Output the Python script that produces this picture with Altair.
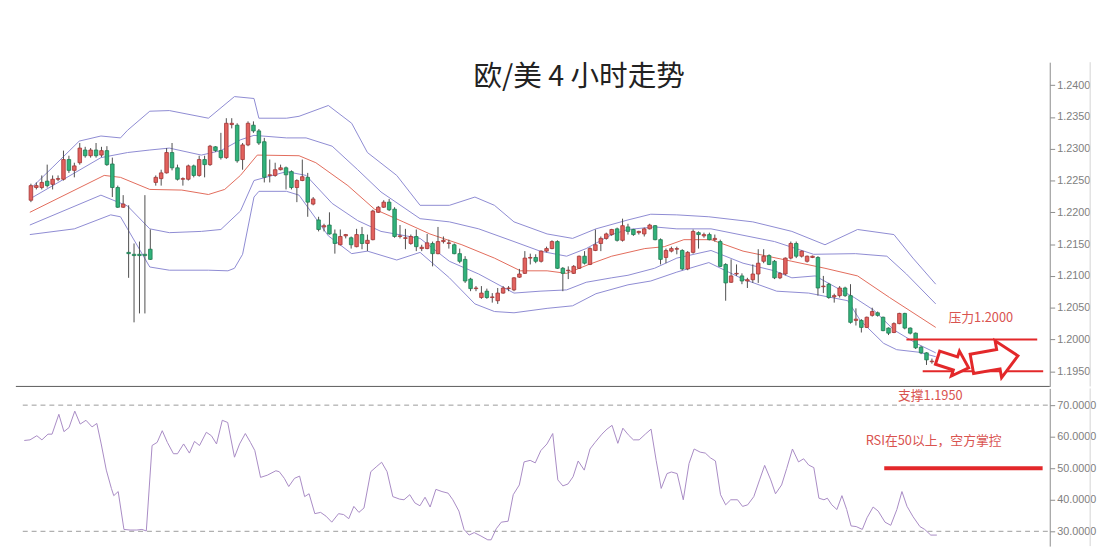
import altair as alt
import pandas as pd

# ---------------- candle data (EUR/USD, 4h) ----------------
opens = [1.2219, 1.2239, 1.2239, 1.2249, 1.2244, 1.2252, 1.2252, 1.2283, 1.2266, 1.2278,
         1.2298, 1.2289, 1.2298, 1.2290, 1.2297, 1.2276, 1.2239, 1.2208, 1.2137, 1.2134,
         1.2134, 1.2134, 1.2142, 1.2247, 1.2253, 1.2262, 1.2294, 1.2270, 1.2252, 1.2252,
         1.2273, 1.2258, 1.2283, 1.2275, 1.2303, 1.2297, 1.2286, 1.2338, 1.2337, 1.2283,
         1.2306, 1.2337, 1.2328, 1.2311, 1.2258, 1.2258, 1.2267, 1.2270, 1.2264, 1.2239,
         1.2250, 1.2255, 1.2213, 1.2188, 1.2177, 1.2180, 1.2166, 1.2149, 1.2163, 1.2160,
         1.2146, 1.2165, 1.2151, 1.2157, 1.2200, 1.2208, 1.2216, 1.2205, 1.2162, 1.2159,
         1.2151, 1.2162, 1.2143, 1.2143, 1.2151, 1.2135, 1.2154, 1.2151, 1.2149, 1.2135,
         1.2126, 1.2095, 1.2080, 1.2066, 1.2076, 1.2066, 1.2061, 1.2073, 1.2080, 1.2078,
         1.2098, 1.2104, 1.2128, 1.2129, 1.2123, 1.2139, 1.2143, 1.2154, 1.2112, 1.2108,
         1.2104, 1.2112, 1.2131, 1.2118, 1.2140, 1.2151, 1.2159, 1.2165, 1.2174, 1.2156,
         1.2177, 1.2173, 1.2168, 1.2166, 1.2174, 1.2179, 1.2157, 1.2129, 1.2139, 1.2142,
         1.2140, 1.2111, 1.2137, 1.2168, 1.2163, 1.2165, 1.2157, 1.2154, 1.2118, 1.2090,
         1.2103, 1.2100, 1.2092, 1.2094, 1.2103, 1.2123, 1.2132, 1.2123, 1.2097, 1.2103,
         1.2128, 1.2151, 1.2131, 1.2123, 1.2129, 1.2129, 1.2083, 1.2087, 1.2067, 1.2069,
         1.2081, 1.2069, 1.2030, 1.2030, 1.2019, 1.2038, 1.2042, 1.2035, 1.2018, 1.2011,
         1.2025, 1.2041, 1.2018, 1.2010, 1.1988, 1.1979, 1.1965]
closes = [1.2242, 1.2242, 1.2247, 1.2242, 1.2252, 1.2253, 1.2283, 1.2266, 1.2273, 1.2301,
          1.2289, 1.2298, 1.2289, 1.2297, 1.2275, 1.2239, 1.2208, 1.2213, 1.2135, 1.2132,
          1.2132, 1.2132, 1.2126, 1.2255, 1.2262, 1.2294, 1.2270, 1.2252, 1.2253, 1.2273,
          1.2258, 1.2283, 1.2275, 1.2304, 1.2297, 1.2286, 1.2340, 1.2340, 1.2281, 1.2306,
          1.2340, 1.2328, 1.2309, 1.2255, 1.2259, 1.2267, 1.2270, 1.2259, 1.2239, 1.2250,
          1.2256, 1.2216, 1.2221, 1.2173, 1.2179, 1.2166, 1.2151, 1.2162, 1.2165, 1.2149,
          1.2165, 1.2151, 1.2156, 1.2202, 1.2208, 1.2216, 1.2204, 1.2162, 1.2163, 1.2160,
          1.2162, 1.2146, 1.2145, 1.2152, 1.2135, 1.2154, 1.2156, 1.2152, 1.2135, 1.2123,
          1.2092, 1.2080, 1.2081, 1.2073, 1.2066, 1.2067, 1.2073, 1.2081, 1.2081, 1.2097,
          1.2103, 1.2128, 1.2129, 1.2123, 1.2139, 1.2143, 1.2154, 1.2112, 1.2104, 1.2109,
          1.2115, 1.2131, 1.2120, 1.2143, 1.2149, 1.2159, 1.2166, 1.2173, 1.2156, 1.2179,
          1.2170, 1.2165, 1.2170, 1.2174, 1.2180, 1.2157, 1.2126, 1.2140, 1.2143, 1.2143,
          1.2111, 1.2137, 1.2170, 1.2165, 1.2165, 1.2157, 1.2159, 1.2115, 1.2089, 1.2100,
          1.2104, 1.2092, 1.2094, 1.2103, 1.2120, 1.2131, 1.2118, 1.2097, 1.2104, 1.2128,
          1.2151, 1.2131, 1.2139, 1.2131, 1.2131, 1.2081, 1.2084, 1.2066, 1.2069, 1.2081,
          1.2069, 1.2027, 1.2032, 1.2019, 1.2035, 1.2044, 1.2038, 1.2014, 1.2010, 1.2025,
          1.2041, 1.2018, 1.2010, 1.1987, 1.1979, 1.1968, 1.1966]
highs = [1.2245, 1.2247, 1.2258, 1.2275, 1.2258, 1.2258, 1.2297, 1.2289, 1.2278, 1.2309,
         1.2303, 1.2301, 1.2309, 1.2303, 1.2304, 1.2286, 1.2242, 1.2227, 1.2211, 1.2151,
         1.2154, 1.2227, 1.2173, 1.2258, 1.2267, 1.2301, 1.2309, 1.2275, 1.2255, 1.2275,
         1.2275, 1.2289, 1.2289, 1.2306, 1.2304, 1.2325, 1.2348, 1.2348, 1.2340, 1.2309,
         1.2343, 1.2343, 1.2331, 1.2317, 1.2283, 1.2278, 1.2275, 1.2272, 1.2266, 1.2252,
         1.2283, 1.2262, 1.2224, 1.2193, 1.2182, 1.2200, 1.2173, 1.2173, 1.2166, 1.2162,
         1.2174, 1.2177, 1.2165, 1.2204, 1.2210, 1.2219, 1.2221, 1.2208, 1.2180, 1.2174,
         1.2165, 1.2173, 1.2149, 1.2166, 1.2154, 1.2177, 1.2162, 1.2157, 1.2151, 1.2143,
         1.2131, 1.2097, 1.2084, 1.2084, 1.2080, 1.2073, 1.2081, 1.2084, 1.2084, 1.2098,
         1.2111, 1.2139, 1.2135, 1.2134, 1.2140, 1.2146, 1.2156, 1.2156, 1.2114, 1.2115,
         1.2117, 1.2132, 1.2139, 1.2145, 1.2173, 1.2162, 1.2168, 1.2174, 1.2176, 1.2190,
         1.2182, 1.2174, 1.2171, 1.2176, 1.2182, 1.2180, 1.2159, 1.2143, 1.2146, 1.2146,
         1.2142, 1.2139, 1.2173, 1.2170, 1.2168, 1.2168, 1.2165, 1.2157, 1.2120, 1.2126,
         1.2118, 1.2104, 1.2097, 1.2118, 1.2142, 1.2142, 1.2134, 1.2125, 1.2106, 1.2129,
         1.2154, 1.2154, 1.2140, 1.2132, 1.2132, 1.2131, 1.2100, 1.2089, 1.2072, 1.2084,
         1.2083, 1.2087, 1.2049, 1.2032, 1.2036, 1.2050, 1.2044, 1.2036, 1.2019, 1.2027,
         1.2042, 1.2042, 1.2019, 1.2011, 1.1990, 1.1980, 1.1970]
lows = [1.2216, 1.2236, 1.2236, 1.2239, 1.2236, 1.2249, 1.2250, 1.2262, 1.2255, 1.2275,
        1.2286, 1.2286, 1.2286, 1.2287, 1.2273, 1.2224, 1.2207, 1.2207, 1.2097, 1.2027,
        1.2041, 1.2041, 1.2125, 1.2242, 1.2242, 1.2261, 1.2266, 1.2250, 1.2242, 1.2250,
        1.2255, 1.2256, 1.2255, 1.2273, 1.2295, 1.2283, 1.2284, 1.2332, 1.2278, 1.2267,
        1.2304, 1.2325, 1.2306, 1.2247, 1.2247, 1.2256, 1.2266, 1.2236, 1.2236, 1.2216,
        1.2249, 1.2193, 1.2211, 1.2170, 1.2170, 1.2165, 1.2135, 1.2148, 1.2159, 1.2143,
        1.2145, 1.2142, 1.2139, 1.2156, 1.2199, 1.2207, 1.2202, 1.2160, 1.2159, 1.2142,
        1.2149, 1.2139, 1.2139, 1.2142, 1.2115, 1.2134, 1.2151, 1.2143, 1.2134, 1.2120,
        1.2089, 1.2076, 1.2076, 1.2064, 1.2064, 1.2058, 1.2056, 1.2072, 1.2076, 1.2076,
        1.2097, 1.2103, 1.2118, 1.2120, 1.2121, 1.2137, 1.2142, 1.2111, 1.2076, 1.2095,
        1.2103, 1.2111, 1.2118, 1.2117, 1.2139, 1.2139, 1.2157, 1.2163, 1.2154, 1.2154,
        1.2165, 1.2163, 1.2165, 1.2162, 1.2173, 1.2156, 1.2118, 1.2120, 1.2137, 1.2134,
        1.2109, 1.2109, 1.2135, 1.2143, 1.2160, 1.2156, 1.2154, 1.2114, 1.2061, 1.2089,
        1.2100, 1.2087, 1.2081, 1.2089, 1.2089, 1.2120, 1.2117, 1.2095, 1.2095, 1.2101,
        1.2126, 1.2128, 1.2129, 1.2121, 1.2128, 1.2069, 1.2073, 1.2064, 1.2058, 1.2066,
        1.2067, 1.2025, 1.2022, 1.2011, 1.2018, 1.2036, 1.2036, 1.2013, 1.2007, 1.2010,
        1.2024, 1.2016, 1.2008, 1.1985, 1.1977, 1.1960, 1.1962]

# ---------------- Bollinger bands (bar index -> price) ----------------
uo_k = [-0.2, 3.9, 8.9, 12.9, 16.5, 17.8, 21.9, 25.5, 32.7, 37.5, 41.1, 42.0, 47.1, 49.4, 54.8,
        59.1, 62.0, 67.4, 71.7, 77.1, 81.8, 85.4, 89.0, 95.1, 99.8, 104.1, 110.0, 114.2, 119.0,
        124.9, 133.0, 140.2, 146.3, 152.3, 159.0, 162.5, 166.7]
uo_p = [1.2236, 1.2270, 1.2312, 1.2320, 1.2317, 1.2329, 1.2359, 1.2360, 1.2348, 1.2382, 1.2379,
        1.2348, 1.2348, 1.2351, 1.2368, 1.2340, 1.2294, 1.2258, 1.2211, 1.2211, 1.2224, 1.2211,
        1.2185, 1.2166, 1.2159, 1.2174, 1.2188, 1.2197, 1.2196, 1.2193, 1.2185, 1.2170, 1.2149,
        1.2173, 1.2165, 1.2128, 1.2087]
ui_k = [-0.2, 12.9, 17.8, 21.9, 25.5, 31.4, 35.0, 38.6, 41.1, 47.1, 50.7, 55.5, 60.2, 64.5, 71.7,
        77.1, 82.5, 89.0, 93.8, 98.7, 102.3, 107.0, 110.0, 114.9, 119.0, 125.3, 137.0, 144.2,
        151.9, 157.7, 161.3, 166.7]
ui_p = [1.2221, 1.2286, 1.2294, 1.2298, 1.2301, 1.2290, 1.2297, 1.2314, 1.2321, 1.2317, 1.2317,
        1.2304, 1.2267, 1.2232, 1.2190, 1.2185, 1.2174, 1.2154, 1.2139, 1.2131, 1.2143, 1.2165,
        1.2173, 1.2177, 1.2174, 1.2174, 1.2154, 1.2134, 1.2135, 1.2131, 1.2103, 1.2056]
mid_k = [-0.2, 13.5, 16.5, 21.9, 27.8, 32.7, 35.7, 38.6, 41.7, 49.4, 52.5, 58.4, 63.3, 68.6, 73.5,
         79.4, 85.4, 90.2, 95.1, 98.7, 102.8, 107.0, 113.1, 116.7, 120.3, 125.3, 131.2, 140.2,
         146.3, 152.3, 158.2, 166.7]
mid_p = [1.2200, 1.2258, 1.2255, 1.2236, 1.2235, 1.2228, 1.2236, 1.2258, 1.2290, 1.2289, 1.2278,
         1.2242, 1.2205, 1.2185, 1.2166, 1.2149, 1.2128, 1.2108, 1.2108, 1.2104, 1.2118, 1.2131,
         1.2143, 1.2146, 1.2157, 1.2157, 1.2139, 1.2123, 1.2112, 1.2100, 1.2066, 1.2019]
li_k = [-0.2, 12.9, 17.8, 21.9, 25.5, 31.4, 35.0, 38.6, 41.1, 47.1, 50.7, 55.5, 60.2, 64.5, 71.7,
        77.1, 82.5, 89.0, 93.8, 98.7, 102.3, 107.0, 110.0, 114.9, 119.0, 125.3, 131.2, 137.0,
        140.2, 144.5, 151.7, 155.3, 159.0, 163.1, 166.7]
li_p = [1.2180, 1.2227, 1.2210, 1.2174, 1.2168, 1.2170, 1.2173, 1.2202, 1.2250, 1.2264, 1.2258,
        1.2214, 1.2187, 1.2170, 1.2159, 1.2123, 1.2103, 1.2073, 1.2076, 1.2078, 1.2090, 1.2097,
        1.2101, 1.2112, 1.2128, 1.2140, 1.2120, 1.2108, 1.2097, 1.2100, 1.2066, 1.2046, 1.2015,
        1.1994, 1.1979]
lo_k = [-0.2, 8.0, 14.7, 16.5, 17.8, 21.9, 25.5, 32.7, 36.3, 37.5, 39.0, 41.1, 42.0, 47.1, 49.4,
        54.8, 59.1, 62.0, 67.4, 71.7, 77.1, 81.8, 85.4, 89.0, 95.1, 99.8, 104.1, 110.0, 114.2,
        119.0, 124.9, 131.2, 137.4, 143.3, 150.5, 152.8, 157.1, 159.5, 163.6, 166.7]
lo_p = [1.2165, 1.2174, 1.2196, 1.2193, 1.2174, 1.2114, 1.2109, 1.2109, 1.2108, 1.2112, 1.2134,
        1.2224, 1.2233, 1.2233, 1.2227, 1.2163, 1.2135, 1.2139, 1.2125, 1.2137, 1.2097, 1.2056,
        1.2044, 1.2042, 1.2049, 1.2053, 1.2072, 1.2086, 1.2092, 1.2106, 1.2121, 1.2095, 1.2076,
        1.2073, 1.2061, 1.2030, 1.1994, 1.1984, 1.1980, 1.1973]

# ---------------- RSI ----------------
rsi_k = [-0.32, 0.73, 1.97, 2.90, 4.01, 4.75, 5.99, 6.92, 7.85, 8.90, 9.89, 10.94, 12.05, 12.92,
         13.72, 14.65, 15.58, 16.01, 16.82, 17.87, 18.98, 20.22, 21.15, 21.95, 23.0, 23.93, 24.86,
         25.79, 26.90, 27.64, 28.76, 29.81, 30.74, 31.66, 32.90, 33.83, 34.76, 35.81, 36.80, 38.04,
         38.97, 40.02, 40.95, 41.75, 42.80, 44.04, 45.59, 46.21, 47.13, 47.94, 48.99, 49.92, 50.84,
         51.65, 52.70, 53.75, 54.74, 55.79, 57.03, 57.96, 58.89, 59.82, 60.74, 61.67, 62.91, 64.02,
         64.89, 65.88, 66.93, 68.17, 68.97, 70.02, 70.95, 71.88, 72.81, 73.74, 74.79, 75.90, 77.02,
         77.88, 78.99, 79.92, 80.85, 81.78, 83.02, 84.26, 84.87, 85.80, 86.73, 87.97, 88.90, 90.01,
         90.88, 91.99, 92.92, 93.94, 95.06, 96.11, 97.04, 97.96, 98.89, 99.82, 100.75, 101.86,
         102.91, 103.84, 105.08, 106.01, 106.93, 107.99, 108.91, 109.9, 110.83, 111.88, 113.0,
         114.05, 114.98, 115.9, 116.96, 117.76, 118.81, 119.93, 120.98, 121.91, 123.02, 123.95,
         124.88, 125.8, 126.73, 127.66, 128.59, 129.83, 130.75, 131.68, 132.8, 133.85, 134.78,
         135.89, 136.76, 137.87, 138.8, 139.85, 140.96, 141.89, 142.82, 143.75, 144.68, 145.6,
         146.22, 147.03, 147.96, 148.88, 149.75, 150.55, 151.48, 152.6, 153.46, 154.57, 155.5,
         156.74, 157.79, 158.9, 159.83, 160.76, 161.87, 163.11, 163.98, 165.09, 166.2]
rsi_v = [58.8, 59.0, 60.3, 59.0, 60.8, 60.8, 67.1, 61.6, 62.9, 68.1, 64.0, 65.2, 63.1, 64.2,
         57.7, 49.4, 43.6, 41.3, 42.6, 30.6, 30.4, 30.4, 30.6, 30.1, 57.2, 58.2, 61.9,
         58.2, 54.6, 54.6, 57.7, 54.8, 58.5, 57.2, 61.4, 60.3, 57.7, 65.2, 64.5, 53.5,
         57.7, 61.0, 58.2, 55.6, 47.1, 47.8, 49.2, 48.9, 46.8, 44.2, 46.8, 47.5, 41.0,
         41.9, 35.6, 36.0, 34.8, 32.9, 35.6, 35.3, 34.0, 37.9, 36.0, 37.4, 48.9, 50.6,
         51.9, 48.9, 41.0, 40.2, 40.0, 41.6, 39.0, 38.1, 40.8, 37.7, 43.3, 42.6, 42.1,
         40.0, 36.4, 30.6, 28.8, 29.6, 28.5, 27.3, 27.3, 30.8, 32.9, 33.2, 41.6, 44.7,
         52.0, 52.5, 51.7, 55.6, 57.7, 61.0, 46.3, 44.4, 45.0, 47.3, 52.3, 49.4,
         56.1, 58.2, 60.8, 62.4, 63.6, 57.9, 62.7, 60.6, 59.0, 59.0, 60.8,
         62.4, 52.5, 43.6, 48.3, 48.8, 48.3, 40.0, 51.5, 56.1, 55.1, 54.8,
         53.3, 52.3, 41.6, 38.4, 40.0, 40.0, 37.9, 38.4, 41.0, 46.3, 50.9,
         46.3, 41.9, 44.7, 49.9, 56.1, 52.0, 53.0, 51.0, 50.2, 40.5, 40.0,
         40.5, 38.4, 36.9, 41.3, 36.9, 31.7, 31.5, 30.6, 34.3, 37.7, 36.4,
         32.9, 31.9, 36.9, 42.6, 37.9, 34.6, 31.5, 30.6, 28.8, 28.8]

price_ticks = [1.1950, 1.2000, 1.2050, 1.2100, 1.2150, 1.2200, 1.2250, 1.2300, 1.2350, 1.2400]
rsi_ticks = [30, 40, 50, 60, 70]
rsi_levels = [70, 30]
resistance = 1.2000
support = 1.1950
rsi_mid = 50
title_text = "欧/美 4 小时走势"

# ---------------- frames ----------------
n = len(opens)
cdf = pd.DataFrame({"k": list(range(n)), "open": opens, "high": highs, "low": lows, "close": closes})
cdf["dir"] = ["up" if c >= o else "down" for o, c in zip(opens, closes)]

band_rows = []
for name, ks, ps in [("uo", uo_k, uo_p), ("ui", ui_k, ui_p), ("mid", mid_k, mid_p),
                     ("li", li_k, li_p), ("lo", lo_k, lo_p)]:
    for kk, pp in zip(ks, ps):
        band_rows.append({"band": name, "k": kk, "p": pp})
bdf = pd.DataFrame(band_rows)
rdf = pd.DataFrame({"k": rsi_k, "v": rsi_v})

W = 1042
H1 = 329
H2 = 160
xs = alt.Scale(domain=[-0.59, 186.8], nice=False, zero=False)
ys = alt.Scale(domain=[1.19262, 1.24361], nice=False, zero=False)
yr = alt.Scale(domain=[25.31, 75.31], nice=False, zero=False)

AX = dict(orient="right", grid=False, domainColor="#8c8c8c", tickColor="#8c8c8c", tickSize=5,
          labelColor="#808080", labelFont="Liberation Sans", labelFontSize=11, labelPadding=2,
          title=None)
ax_price = alt.Axis(values=price_ticks, format=".4f", **AX)
ax_rsi = alt.Axis(values=rsi_ticks, format=".4f", **AX)


def X(f="k"):
    return alt.X(f, type="quantitative", scale=xs, axis=None, title=None)


def YP(f):
    return alt.Y(f, type="quantitative", scale=ys, axis=ax_price, title=None)


def YR(f):
    return alt.Y(f, type="quantitative", scale=yr, axis=ax_rsi, title=None)


one = pd.DataFrame({"a": [0]})
RED = "#e3282a"
TXT = "#d9534f"
BAND = "#8d8ad2"
MIDC = "#e26b5a"

bands = alt.Chart(bdf).mark_line(strokeWidth=1).encode(
    x=X(), y=YP("p"),
    color=alt.Color("band:N", scale=alt.Scale(domain=["uo", "ui", "mid", "li", "lo"],
                                              range=[BAND, BAND, MIDC, BAND, BAND]), legend=None),
    detail="band:N", order="k:Q")

wicks = alt.Chart(cdf).mark_rule(color="#4d4d4d", strokeWidth=1).encode(
    x=X(), y=YP("low"), y2=alt.Y2("high"))

bodies = alt.Chart(cdf).mark_bar(size=3.6, strokeWidth=0.8).encode(
    x=X(), y=YP("open"), y2=alt.Y2("close"),
    fill=alt.Fill("dir:N", scale=alt.Scale(domain=["up", "down"], range=["#e2625e", "#31b27b"]), legend=None),
    stroke=alt.Stroke("dir:N", scale=alt.Scale(domain=["up", "down"], range=["#a33434", "#1f7a50"]), legend=None))

title = alt.Chart(pd.DataFrame({"k": [101.0], "p": [1.24124], "t": [title_text]})).mark_text(
    font="Noto Sans CJK SC", fontSize=29, color="#222222", baseline="middle", align="center"
).encode(x=X(), y=YP("p"), text="t:N")

levels = alt.Chart(pd.DataFrame({"k1": [161.3, 164.3], "k2": [185.4, 186.5], "p": [resistance, support]})).mark_rule(
    color=RED, strokeWidth=2).encode(x=X("k1"), x2=alt.X2("k2"), y=YP("p"))

res_txt = alt.Chart(pd.DataFrame({"k": [175.0], "p": [1.20331], "t": ["压力1.2000"]})).mark_text(
    font="Noto Sans CJK SC", fontSize=13, color=TXT, baseline="middle", align="center"
).encode(x=X(), y=YP("p"), text="t:N")

ARROW = "M-1,-0.42L0.15,-0.42L0.15,-0.8L1,0L0.15,0.8L0.15,0.42L-1,0.42Z"
arrow1 = alt.Chart(pd.DataFrame({"k": [169.9], "p": [1.19634]})).mark_point(
    shape=ARROW, size=1100, angle=18, filled=True, fill="white", stroke=RED, strokeWidth=3,
    opacity=1, fillOpacity=1, strokeOpacity=1, strokeJoin="miter").encode(x=X(), y=YP("p"))
arrow2 = alt.Chart(pd.DataFrame({"k": [177.6], "p": [1.1968]})).mark_point(
    shape=ARROW, size=2250, angle=350, filled=True, fill="white", stroke=RED, strokeWidth=3,
    opacity=1, fillOpacity=1, strokeOpacity=1, strokeJoin="miter").encode(x=X(), y=YP("p"))

sep = alt.Chart(one).mark_rule(color="#5a5a5a", strokeWidth=1).encode(
    x=alt.value(-7), x2=alt.value(W), y=alt.value(H1))
frame1 = alt.Chart(one).mark_rule(color="#d4d4d4", strokeWidth=1).encode(
    x=alt.value(1083), y=alt.value(0), y2=alt.value(H1))

top = alt.layer(bands, wicks, bodies, title, levels, res_txt, arrow1, arrow2, sep, frame1).properties(
    width=W, height=H1)

dash = alt.Chart(pd.DataFrame({"v": rsi_levels})).mark_rule(
    color="#9a9a9a", strokeDash=[5, 4], strokeWidth=1).encode(y=YR("v"), x=alt.value(0), x2=alt.value(W))
rsi_line = alt.Chart(rdf).mark_line(color="#a88ac4", strokeWidth=1).encode(x=X(), y=YR("v"))
mid_line = alt.Chart(pd.DataFrame({"k1": [156.6], "k2": [185.5], "v": [rsi_mid]})).mark_rule(
    color=RED, strokeWidth=4).encode(x=X("k1"), x2=alt.X2("k2"), y=YR("v"))
sup_txt = alt.Chart(pd.DataFrame({"k": [165.0], "v": [72.8], "t": ["支撑1.1950"]})).mark_text(
    font="Noto Sans CJK SC", fontSize=13, color=TXT, baseline="middle", align="center"
).encode(x=X(), y=YR("v"), text="t:N")
rsi_txt = alt.Chart(pd.DataFrame({"k": [165.6], "v": [58.75], "t": ["RSI在50以上，空方掌控"]})).mark_text(
    font="Noto Sans CJK SC", fontSize=13, color=TXT, baseline="middle", align="center"
).encode(x=X(), y=YR("v"), text="t:N")
frame2 = alt.Chart(one).mark_rule(color="#d4d4d4", strokeWidth=1).encode(
    x=alt.value(1083), y=alt.value(0), y2=alt.value(H2))

bottom = alt.layer(dash, rsi_line, mid_line, sup_txt, rsi_txt, frame2).properties(width=W, height=H2)

chart = alt.vconcat(top, bottom, spacing=0).properties(
    padding={"left": 7, "top": 50, "right": 5, "bottom": 0}
).configure(background="white").configure_view(stroke=None)

chart.save("out.html", embed_options={"renderer": "svg", "actions": False})
